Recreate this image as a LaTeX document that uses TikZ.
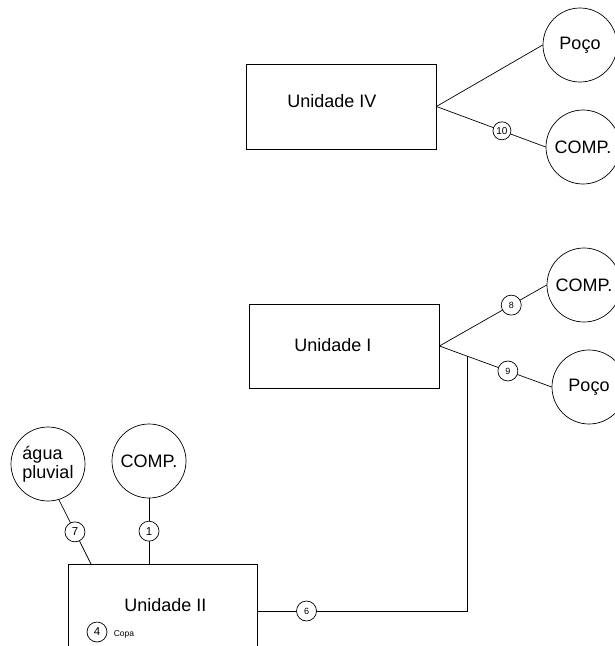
\documentclass[tikz,border=0pt]{standalone}
\usepackage{fontspec}
\setmainfont{Liberation Sans}
\begin{document}
\begin{tikzpicture}[x=1pt,y=-1pt,
  unit/.style={draw, line width=0.8pt, inner sep=0pt},
  big/.style={font=\fontsize{18}{19}\selectfont, inner sep=0pt},
  ent/.style={circle, draw, line width=0.7pt, minimum size=74pt, inner sep=0pt, font=\fontsize{18}{19}\selectfont},
  conn/.style={draw, line width=0.7pt},
  num/.style={circle, draw, line width=0.7pt, fill=white, minimum size=20pt, inner sep=0pt, font=\fontsize{9}{9}\selectfont},
  numbig/.style={num, font=\fontsize{11.5}{11.5}\selectfont}]
\useasboundingbox (0,0) rectangle (614,646);

% Unidade IV
\node[unit, minimum width=190pt, minimum height=85pt] (u4) at (341,106.5) {};
\node[big] (u4t) at (332,101) {Unidade IV};
\node[ent] (poco4) at (580,45) {Poço};
\node[ent] (comp4) at (583,147) {COMP.};
\draw[conn] (u4.east) -- (poco4.west);
\draw[conn] (u4.east) -- node[num, pos=0.6, minimum size=18pt, font=\fontsize{10}{10}\selectfont] (n10) {10} (comp4.west);

% Unidade I
\node[unit, minimum width=190pt, minimum height=84pt] (u1) at (344,346) {};
\node[big] (u1t) at (333,345) {Unidade I};
\node[ent] (comp1) at (584,285) {COMP.};
\node[ent] (poco1) at (589,387) {Poço};
\draw[conn] (u1.east) -- node[num, pos=0.67] (n8) {8} (comp1.west);
\draw[conn] (u1.east) -- coordinate[pos=0.248] (j) node[num, pos=0.61] (n9) {9} (poco1.west);

% Unidade II
\node[unit, minimum width=189pt, minimum height=94pt] (u2) at (162.5,611) {};
\node[big] (u2t) at (165.5,605) {Unidade II};
\node[numbig] (n4) at (97,632) {4};
\node[font=\fontsize{8.5}{8.5}\selectfont, inner sep=0pt] (copa) at (124,634) {Copa};

\node[ent, align=left] (agua) at (48,464) {água\\pluvial};
\node[ent] (comp2) at (149,461) {COMP.};
\coordinate (t7) at (91,564);
\coordinate (t1) at (149,564);
\draw[conn] (agua.-73) -- node[numbig] (n7) {7} (t7);
\draw[conn] (comp2.south) -- node[numbig] (n1) {1} (t1);

\draw[conn] (j) |- node[num, pos=0.883] (n6) {6} (u2.east);
\end{tikzpicture}
\end{document}
